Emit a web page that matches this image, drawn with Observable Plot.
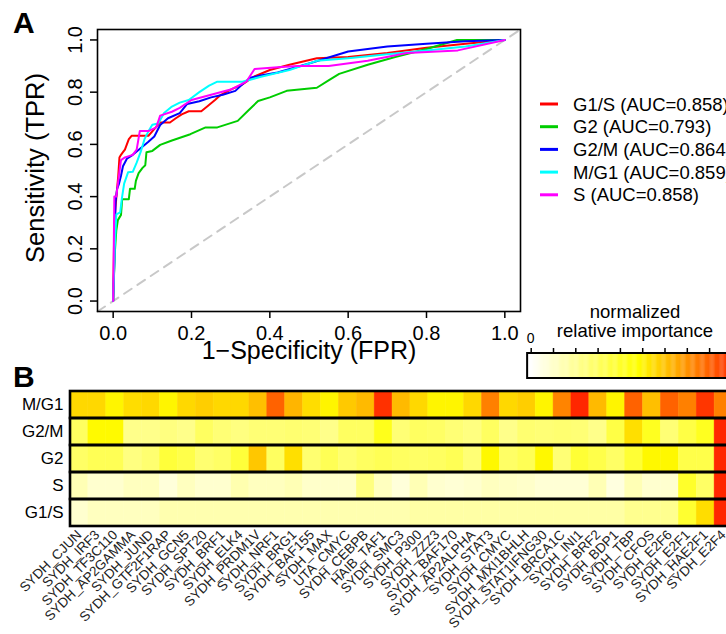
<!DOCTYPE html>
<html><head><meta charset="utf-8">
<script src="https://cdn.jsdelivr.net/npm/d3@7"></script>
<script src="https://cdn.jsdelivr.net/npm/@observablehq/plot@0.6"></script>
<style>
html,body{margin:0;padding:0;background:#fff;overflow:hidden;}
#root{position:relative;width:726px;height:634px;overflow:hidden;font-family:"Liberation Sans",Arial,Helvetica,sans-serif;color:#000;}
.abs{position:absolute;}
.abs svg{display:block;max-width:none !important;}
</style></head><body><div id="root"></div>
<script>
// ---------- Panel A data ----------
const classes = ["G1/S", "G2", "G2/M", "M/G1", "S"];
const aucValues = [0.858, 0.793, 0.864, 0.859, 0.858];
const classColors = ["#ff0000", "#00cd00", "#0000ff", "#00ffff", "#ff00ff"];
const axisLimits = [-0.04, 1.04];
const rocTicks = [0, 0.2, 0.4, 0.6, 0.8, 1.0];

const fprG1S = [0, 0.003, 0.006, 0.01, 0.013, 0.016, 0.02, 0.025, 0.03, 0.035, 0.04, 0.047, 0.06, 0.09, 0.1, 0.12, 0.145, 0.16, 0.175, 0.193, 0.225, 0.24, 0.26, 0.275, 0.3, 0.33, 0.36, 0.4, 0.45, 0.52, 0.6, 0.7, 0.8, 0.9, 1];
const tprG1S = [0, 0.3, 0.36, 0.43, 0.48, 0.55, 0.56, 0.57, 0.58, 0.6, 0.62, 0.633, 0.633, 0.633, 0.65, 0.684, 0.684, 0.7, 0.715, 0.727, 0.727, 0.745, 0.77, 0.79, 0.81, 0.83, 0.86, 0.885, 0.905, 0.93, 0.935, 0.95, 0.97, 0.985, 1];
const fprG2 = [0, 0.004, 0.008, 0.012, 0.02, 0.023, 0.04, 0.043, 0.055, 0.058, 0.065, 0.075, 0.082, 0.085, 0.1, 0.12, 0.15, 0.197, 0.236, 0.266, 0.318, 0.345, 0.37, 0.4, 0.443, 0.52, 0.55, 0.577, 0.65, 0.72, 0.8, 0.878, 1];
const tprG2 = [0, 0.18, 0.27, 0.31, 0.33, 0.39, 0.39, 0.43, 0.43, 0.46, 0.49, 0.51, 0.52, 0.57, 0.575, 0.598, 0.615, 0.639, 0.665, 0.665, 0.69, 0.73, 0.766, 0.78, 0.805, 0.817, 0.845, 0.87, 0.905, 0.935, 0.965, 1.0, 1.0];
const fprG2M = [0, 0.003, 0.006, 0.01, 0.015, 0.02, 0.025, 0.035, 0.05, 0.07, 0.09, 0.105, 0.12, 0.14, 0.17, 0.189, 0.22, 0.25, 0.28, 0.312, 0.33, 0.35, 0.38, 0.42, 0.5, 0.6, 0.7, 0.8, 0.9, 1];
const tprG2M = [0, 0.15, 0.38, 0.43, 0.45, 0.48, 0.516, 0.545, 0.56, 0.585, 0.61, 0.63, 0.674, 0.7, 0.72, 0.755, 0.765, 0.78, 0.79, 0.805, 0.83, 0.855, 0.865, 0.875, 0.91, 0.956, 0.975, 0.985, 0.995, 1];
const fprMG1 = [0, 0.004, 0.008, 0.018, 0.022, 0.028, 0.038, 0.05, 0.06, 0.07, 0.08, 0.09, 0.1, 0.115, 0.13, 0.15, 0.17, 0.193, 0.22, 0.245, 0.266, 0.33, 0.38, 0.45, 0.52, 0.6, 0.7, 0.8, 0.9, 1];
const tprMG1 = [0, 0.2, 0.332, 0.34, 0.39, 0.45, 0.493, 0.495, 0.53, 0.57, 0.62, 0.65, 0.675, 0.68, 0.72, 0.745, 0.76, 0.77, 0.8, 0.825, 0.84, 0.84, 0.86, 0.885, 0.92, 0.93, 0.945, 0.96, 0.975, 1];
const fprS = [0, 0.003, 0.008, 0.013, 0.02, 0.03, 0.04, 0.05, 0.06, 0.068, 0.09, 0.11, 0.12, 0.15, 0.17, 0.2, 0.25, 0.3, 0.34, 0.361, 0.42, 0.47, 0.55, 0.65, 0.75, 0.88, 1];
const tprS = [0, 0.4, 0.4, 0.46, 0.54, 0.55, 0.555, 0.56, 0.58, 0.651, 0.651, 0.665, 0.71, 0.725, 0.74, 0.77, 0.79, 0.81, 0.84, 0.889, 0.895, 0.9, 0.9, 0.92, 0.95, 0.96, 1];

// ---------- Panel B data ----------
const tfNames = ["SYDH_CJUN","SYDH_IRF3","SYDH_TF3C110","SYDH_AP2GAMMA","SYDH_JUND","SYDH_GTF2F1RAP","SYDH_GCN5","SYDH_SPT20","SYDH_BRF1","SYDH_ELK4","SYDH_PRDM1V","SYDH_NRF1","SYDH_BRG1","SYDH_BAF155","SYDH_MAX","UTA_CMYC","SYDH_CEBPB","HAIB_TAF1","SYDH_SMC3","SYDH_P300","SYDH_ZZZ3","SYDH_BAF170","SYDH_AP2ALPHA","SYDH_STAT3","SYDH_CMYC","SYDH_MXI1BHLH","SYDH_STAT1IFNG30","SYDH_BRCA1C","SYDH_INI1","SYDH_BRF2","SYDH_BDP1","SYDH_TBP","SYDH_CFOS","SYDH_E2F6","SYDH_E2F1","SYDH_HAE2F1","SYDH_E2F4"];
const phases = ["M/G1", "G2/M", "G2", "S", "G1/S"];
const impMG1 = [0.56,0.56,0.50,0.55,0.56,0.50,0.56,0.58,0.56,0.56, 0.61,0.80,0.63,0.55,0.50,0.59,0.62,0.90,0.62,0.56, 0.50,0.50,0.56,0.74,0.56,0.58,0.50,0.73,0.92,0.62, 0.50,0.80,0.61,0.80,0.74,0.89,0.74];
const impG2M = [0.30,0.49,0.49,0.22,0.22,0.24,0.22,0.30,0.26,0.24, 0.26,0.26,0.27,0.26,0.22,0.30,0.30,0.43,0.26,0.30, 0.29,0.26,0.24,0.30,0.22,0.27,0.26,0.27,0.26,0.22, 0.35,0.545,0.42,0.26,0.35,0.42,0.92];
const impG2 = [0.29,0.32,0.32,0.24,0.27,0.37,0.34,0.27,0.29,0.37, 0.595,0.30,0.545,0.27,0.32,0.27,0.30,0.32,0.30,0.29, 0.30,0.32,0.26,0.495,0.29,0.32,0.495,0.26,0.38,0.34, 0.29,0.38,0.495,0.495,0.34,0.34,0.92];
const impS = [0.14,0.09,0.09,0.12,0.12,0.07,0.12,0.09,0.09,0.15, 0.12,0.12,0.14,0.10,0.10,0.10,0.24,0.12,0.07,0.14, 0.09,0.08,0.09,0.12,0.11,0.10,0.08,0.08,0.08,0.14, 0.06,0.14,0.09,0.09,0.40,0.29,0.92];
const impG1S = [0.09,0.12,0.12,0.12,0.12,0.15,0.15,0.15,0.15,0.15, 0.15,0.15,0.15,0.15,0.15,0.15,0.15,0.15,0.15,0.17, 0.17,0.17,0.17,0.17,0.17,0.17,0.17,0.17,0.17,0.17, 0.17,0.21,0.21,0.21,0.39,0.55,0.92];
const colorbarTicks = [0, 0.1, 0.2, 0.3, 0.4, 0.5, 0.6, 0.7, 0.8, 0.9, 1.0];
const colorStops = [0, 0.48, 1];
const colorRange = ["#ffffff", "#ffff00", "#ff0000"];

// ---------- build ----------
const FONT = "'Liberation Sans', Arial, Helvetica, sans-serif";
const root = document.getElementById("root");
function place(node, left, top) {
  const d = document.createElement("div");
  d.className = "abs"; d.style.left = left + "px"; d.style.top = top + "px";
  node.style.maxWidth = "none";
  d.appendChild(node); root.appendChild(d);
}

const fprs = [fprG1S, fprG2, fprG2M, fprMG1, fprS];
const tprs = [tprG1S, tprG2, tprG2M, tprMG1, tprS];
const rocRows = classes.flatMap((c, i) => fprs[i].map((f, j) => ({cls: c, fpr: f, tpr: tprs[i][j]})));
const fmt1 = d3.format(".1f");

const panelA = Plot.plot({
  width: 530, height: 372,
  marginLeft: 97, marginRight: 10, marginTop: 29, marginBottom: 61,
  x: {domain: axisLimits},
  y: {domain: axisLimits},
  color: {domain: classes, range: classColors},
  style: {fontFamily: FONT, fontSize: "20px", color: "black", background: "transparent", overflow: "visible", maxWidth: "none"},
  marks: [
    Plot.line(axisLimits, {x: d => d, y: d => d, stroke: "#c8c8c8", strokeWidth: 2, strokeDasharray: "9,7"}),
    Plot.line(rocRows, {x: "fpr", y: "tpr", z: "cls", stroke: "cls", strokeWidth: 2, strokeLinejoin: "round"}),
    Plot.frame({stroke: "black", strokeWidth: 1.6}),
    Plot.axisX({ticks: rocTicks, tickFormat: fmt1, tickSize: 7, tickPadding: 7, label: null, strokeWidth: 1.5}),
    Plot.axisY({ticks: rocTicks, tickFormat: fmt1, tickSize: 7, tickPadding: 9, tickRotate: -90, label: null, strokeWidth: 1.5})
  ]
});
place(panelA, 0, 0);

const impRows = [impMG1, impG2M, impG2, impS, impG1S];
const cells = phases.flatMap((p, i) => tfNames.map((t, j) => ({phase: p, tf: t, v: impRows[i][j]})));
const colorScale = {type: "linear", domain: colorStops, range: colorRange, interpolate: "rgb"};

const panelB = Plot.plot({
  width: 760, height: 274,
  marginLeft: 70, marginRight: 28, marginTop: 31, marginBottom: 108,
  x: {domain: tfNames, padding: 0, axis: null},
  y: {domain: phases, padding: 0},
  color: colorScale,
  style: {fontFamily: FONT, fontSize: "17px", color: "black", background: "transparent", overflow: "visible", maxWidth: "none"},
  marks: [
    Plot.cell(cells, {x: "tf", y: "phase", fill: "v", stroke: "v", strokeWidth: 0.5}),
    Plot.cell(phases, {y: d => d, fill: "none", stroke: "black", strokeWidth: 2.6}),
    Plot.axisY({tickSize: 0, tickPadding: 7, label: null}),
    Plot.text(tfNames, {x: d => d, frameAnchor: "bottom", dy: 6, rotate: -45, textAnchor: "end", lineAnchor: "middle", fontSize: 13.5, fill: "#222"})
  ]
});
place(panelB, 0, 360);

const gradSteps = d3.range(0, 1, 0.005);
const colorbar = Plot.plot({
  width: 260, height: 45,
  margin: 0,
  x: {domain: [0, 1], range: [30.7, 253.7], axis: null},
  y: {domain: [0, 1], range: [38, 13], axis: null},
  color: colorScale,
  style: {background: "transparent", overflow: "visible", maxWidth: "none"},
  marks: [
    Plot.rect(gradSteps, {x1: d => d, x2: d => d + 0.006, y1: 0, y2: 1, fill: d => d + 0.0025}),
    Plot.rect([0], {x1: -0.016, x2: 1.02, y1: 0, y2: 1, stroke: "black", strokeWidth: 2, fill: "none"}),
    Plot.ruleX(colorbarTicks, {y1: 1, y2: 1.2, stroke: "black", strokeWidth: 1.5})
  ]
});
place(colorbar, 500, 340);

// ---------- overlay text ----------
const ov = d3.create("svg").attr("width", 726).attr("height", 634)
  .style("font-family", FONT).style("pointer-events", "none");
ov.append("text").attr("x", 13).attr("y", 33).attr("font-size", 30).attr("font-weight", "bold").text("A");
ov.append("text").attr("x", 13).attr("y", 387).attr("font-size", 30).attr("font-weight", "bold").text("B");
ov.append("text").attr("transform", "translate(44,168) rotate(-90)").attr("text-anchor", "middle").attr("font-size", 25.5).text("Sensitivity (TPR)");
ov.append("text").attr("x", 309).attr("y", 359).attr("text-anchor", "middle").attr("font-size", 25).text("1\u2212Specificity (FPR)");
const lg = ov.append("g");
classes.forEach((c, i) => {
  const cy = 104 + i * 22.7;
  lg.append("line").attr("x1", 540).attr("x2", 558).attr("y1", cy).attr("y2", cy).attr("stroke", classColors[i]).attr("stroke-width", 3);
  lg.append("text").attr("x", 573).attr("y", cy + 6.5).attr("font-size", 18.5).text(`${c} (AUC=${aucValues[i].toFixed(3)})`);
});
ov.append("text").attr("x", 635).attr("y", 318).attr("text-anchor", "middle").attr("font-size", 18.5).text("normalized");
ov.append("text").attr("x", 635).attr("y", 337).attr("text-anchor", "middle").attr("font-size", 18.5).text("relative importance");
ov.append("text").attr("x", 530.7).attr("y", 343).attr("text-anchor", "middle").attr("font-size", 14).text("0");
place(ov.node(), 0, 0);
</script>
</body></html>
